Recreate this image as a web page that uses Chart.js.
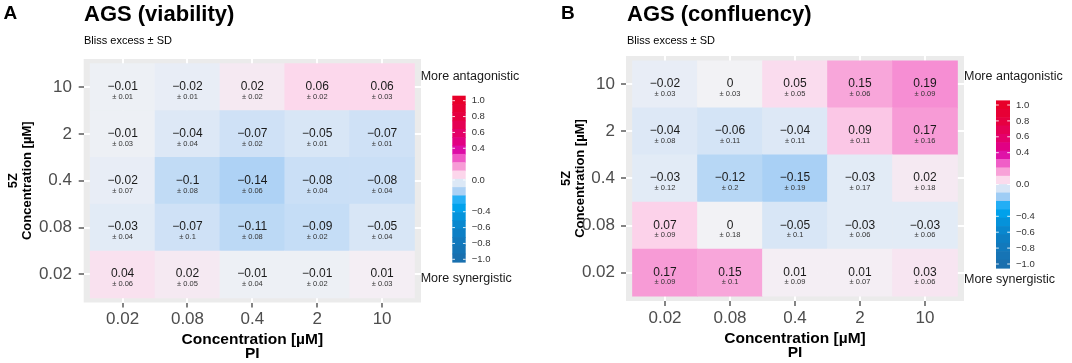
<!DOCTYPE html>
<html><head><meta charset="utf-8">
<script src="https://cdn.jsdelivr.net/npm/chart.js@4.4.1/dist/chart.umd.min.js"></script>
<style>
html,body{margin:0;padding:0;background:#fff;}
#wrap{position:relative;width:1072px;height:363px;overflow:hidden;}
.pane{position:absolute;top:0;width:536px;height:363px;}
canvas{display:block;}
</style></head>
<body><div id="wrap">
<div class="pane" style="left:0"><canvas id="cA" width="536" height="363"></canvas></div>
<div class="pane" style="left:536px"><canvas id="cB" width="536" height="363"></canvas></div>
</div>
<script>
// ---- data ----
const xLabels = ['0.02', '0.08', '0.4', '2', '10'];          // PI concentration
const yLabels = ['0.02', '0.08', '0.4', '2', '10'];          // 5Z concentration, bottom -> top
const legendTicks = [1.0, 0.8, 0.6, 0.4, 0.0, -0.4, -0.6, -0.8, -1.0];

// rows bottom -> top (5Z 0.02 ... 10), columns left -> right (PI 0.02 ... 10)
const viabilityMean = [
  [0.04, 0.02, -0.01, -0.01, 0.01],
  [-0.03, -0.07, -0.11, -0.09, -0.05],
  [-0.02, -0.1, -0.14, -0.08, -0.08],
  [-0.01, -0.04, -0.07, -0.05, -0.07],
  [-0.01, -0.02, 0.02, 0.06, 0.06]
];
const viabilitySD = [
  [0.06, 0.05, 0.04, 0.02, 0.03],
  [0.04, 0.1, 0.08, 0.02, 0.04],
  [0.07, 0.08, 0.06, 0.04, 0.04],
  [0.03, 0.04, 0.02, 0.01, 0.01],
  [0.01, 0.01, 0.02, 0.02, 0.03]
];
const confluencyMean = [
  [0.17, 0.15, 0.01, 0.01, 0.03],
  [0.07, 0, -0.05, -0.03, -0.03],
  [-0.03, -0.12, -0.15, -0.03, 0.02],
  [-0.04, -0.06, -0.04, 0.09, 0.17],
  [-0.02, 0, 0.05, 0.15, 0.19]
];
const confluencySD = [
  [0.09, 0.1, 0.09, 0.07, 0.06],
  [0.09, 0.18, 0.1, 0.06, 0.06],
  [0.12, 0.2, 0.19, 0.17, 0.18],
  [0.08, 0.11, 0.11, 0.11, 0.16],
  [0.03, 0.03, 0.05, 0.06, 0.09]
];

// ---- style ----
const FONT = "'Liberation Sans', Arial, Helvetica, sans-serif";
const W = 536, H = 363;
const colorStops = [
  [-1.0, '#1a6fae'], [-0.7, '#0e7dc2'], [-0.5, '#068ed6'], [-0.36, '#00a2ec'],
  [-0.25, '#28b0f6'], [-0.15, '#a9d0f5'], [-0.04, '#dde8f6'], [0, '#f2f2f5'],
  [0.06, '#fcd8ec'], [0.17, '#f79bd6'], [0.27, '#f05ac6'], [0.38, '#dd0aa5'],
  [0.45, '#e1008a'], [0.6, '#e40065'], [0.8, '#e6003f'], [1.0, '#e8002a']
];
function hex2rgb(h){return [parseInt(h.slice(1,3),16),parseInt(h.slice(3,5),16),parseInt(h.slice(5,7),16)];}
function colorFor(v){
  if (v <= colorStops[0][0]) return colorStops[0][1];
  if (v >= colorStops[colorStops.length-1][0]) return colorStops[colorStops.length-1][1];
  for (let i = 1; i < colorStops.length; i++) {
    if (v <= colorStops[i][0]) {
      const [v0, c0] = colorStops[i-1], [v1, c1] = colorStops[i];
      const t = (v - v0) / (v1 - v0);
      const a = hex2rgb(c0), b = hex2rgb(c1);
      return 'rgb(' + a.map((x, k) => Math.round(x + (b[k] - x) * t)).join(',') + ')';
    }
  }
}
function fmt(v){ if (v === 0) return '0'; return (v < 0 ? '\u2212' : '') + String(Math.abs(v)); }
function fmtTick(v){ return (v < 0 ? '\u2212' : '') + Math.abs(v).toFixed(1); }

const panels = [
  {id:'cA', letter:'A', title:'AGS (viability)', mean:viabilityMean, sd:viabilitySD,
   letterX:3.5, titleX:84, area:{left:83.7, right:421, top:59, bottom:302.5},
   yTitlePad:6, yTickPad:6.7, xTitlePad:2,
   leg:{textX:420.7, antY:77, synY:278.3, barL:452.3, barR:465.7, barT:96, barB:262.3, v1:100.7, vm1:259.3, labX:471.7}},
  {id:'cB', letter:'B', title:'AGS (confluency)', mean:confluencyMean, sd:confluencySD,
   letterX:25, titleX:91, area:{left:90, right:428, top:56, bottom:301},
   yTitlePad:23.5, yTickPad:6, xTitlePad:3,
   leg:{textX:428, antY:76.7, synY:280, barL:460, barR:474, barT:100.7, barB:268.3, v1:105, vm1:264, labX:480}}
];

function panelPlugin(p){
  return {
    id:'panelDeco'+p.letter,
    beforeDraw(chart){
      const {ctx, chartArea:a} = chart;
      ctx.save();
      ctx.fillStyle = '#ebebeb';
      ctx.fillRect(a.left, a.top, a.right - a.left, a.bottom - a.top);
      ctx.restore();
    },
    afterDatasetsDraw(chart){
      const ctx = chart.ctx;
      ctx.save();
      ctx.textAlign = 'center';
      ctx.textBaseline = 'middle';
      chart.data.datasets.forEach((ds, r) => {
        const meta = chart.getDatasetMeta(r);
        meta.data.forEach((el, c) => {
          const cx = el.x, cy = (el.y + el.base) / 2;
          ctx.fillStyle = '#1a1a1a';
          ctx.font = '12px ' + FONT;
          ctx.fillText(fmt(p.mean[r][c]), cx, cy - 0.4);
          ctx.fillStyle = '#333333';
          ctx.font = '7.5px ' + FONT;
          ctx.fillText('\u00b1 ' + p.sd[r][c], cx, cy + 9.7);
        });
      });
      ctx.restore();
    },
    afterDraw(chart){
      const ctx = chart.ctx;
      ctx.save();
      ctx.fillStyle = '#000';
      ctx.textAlign = 'left';
      ctx.textBaseline = 'alphabetic';
      ctx.font = 'bold 19px ' + FONT;
      ctx.fillText(p.letter, p.letterX, 18.8);
      ctx.font = 'bold 22px ' + FONT;
      ctx.fillText(p.title, p.titleX, 21);
      ctx.font = '11px ' + FONT;
      ctx.fillText('Bliss excess \u00b1 SD', p.titleX, 44);
      // legend
      const L = p.leg;
      ctx.fillStyle = '#1a1a1a';
      ctx.textBaseline = 'middle';
      ctx.font = '12.5px ' + FONT;
      ctx.fillText('More antagonistic', L.textX, L.antY);
      ctx.fillText('More synergistic', L.textX, L.synY);
      const val2px = v => L.v1 + (1 - v) / 2 * (L.vm1 - L.v1);
      const px2val = y => 1 - (y - L.v1) / (L.vm1 - L.v1) * 2;
      const nbin = 20, bh = (L.barB - L.barT) / nbin;
      for (let i = 0; i < nbin; i++) {
        const y0 = L.barT + i * bh;
        ctx.fillStyle = colorFor(px2val(y0 + bh / 2));
        ctx.fillRect(L.barL, y0 - 0.3, L.barR - L.barL, bh + 0.6);
      }
      ctx.strokeStyle = 'rgba(255,255,255,0.85)';
      ctx.lineWidth = 1;
      const tl = (L.barR - L.barL) / 5;
      ctx.font = '9.5px ' + FONT;
      ctx.fillStyle = '#333333';
      legendTicks.forEach(v => {
        const y = val2px(v);
        ctx.beginPath();
        ctx.moveTo(L.barL, y); ctx.lineTo(L.barL + tl, y);
        ctx.moveTo(L.barR - tl, y); ctx.lineTo(L.barR, y);
        ctx.stroke();
        ctx.fillText(fmtTick(v), L.labX, y);
      });
      ctx.restore();
    }
  };
}

panels.forEach(p => {
  const a = p.area;
  const datasets = yLabels.map((yl, r) => ({
    label: '5Z ' + yl,
    data: xLabels.map((xl, c) => ({x: c, y: [r, r + 1]})),
    backgroundColor: p.mean[r].map(colorFor),
    borderWidth: 0,
    grouped: false,
    barPercentage: 1,
    categoryPercentage: 1
  }));
  const gridOpts = {color:'#ffffff', lineWidth:2, tickColor:'#333333', tickLength:5, tickWidth:1.2, offset:false};
  new Chart(document.getElementById(p.id), {
    type: 'bar',
    data: {datasets},
    options: {
      responsive: false, animation: false, devicePixelRatio: 1,
      layout: {padding: {left: 0, top: a.top, right: W - a.right, bottom: 0}},
      plugins: {legend: {display: false}, tooltip: {enabled: false}},
      scales: {
        x: {
          type: 'linear', min: -0.6, max: 4.6, offset: false,
          afterBuildTicks: s => { s.ticks = xLabels.map((_, i) => ({value: i})); },
          afterFit: s => { s.height = H - a.bottom; },
          ticks: {callback: (v, i) => xLabels[i], font: {family: FONT, size: 17}, color: '#4d4d4d', padding: 2, maxRotation: 0, autoSkip: false},
          grid: gridOpts,
          border: {display: false},
          title: {display: true, text: ['Concentration [\u00b5M]', 'PI'], color: '#000',
                  font: {family: FONT, size: 15.5, weight: 'bold', lineHeight: '14px'}, padding: {top: 0, bottom: p.xTitlePad}}
        },
        y: {
          type: 'linear', min: -0.1, max: 5.1, offset: false,
          afterBuildTicks: s => { s.ticks = yLabels.map((_, i) => ({value: i + 0.5})); },
          afterFit: s => { s.width = a.left; },
          ticks: {callback: (v, i) => yLabels[i], font: {family: FONT, size: 17}, color: '#4d4d4d', padding: p.yTickPad, autoSkip: false},
          grid: gridOpts,
          border: {display: false},
          title: {display: true, text: ['5Z', 'Concentration [\u00b5M]'], color: '#000',
                  font: {family: FONT, size: 13, weight: 'bold', lineHeight: '14px'}, padding: {top: p.yTitlePad, bottom: 0}}
        }
      }
    },
    plugins: [panelPlugin(p)]
  });
});
</script>
</body></html>
